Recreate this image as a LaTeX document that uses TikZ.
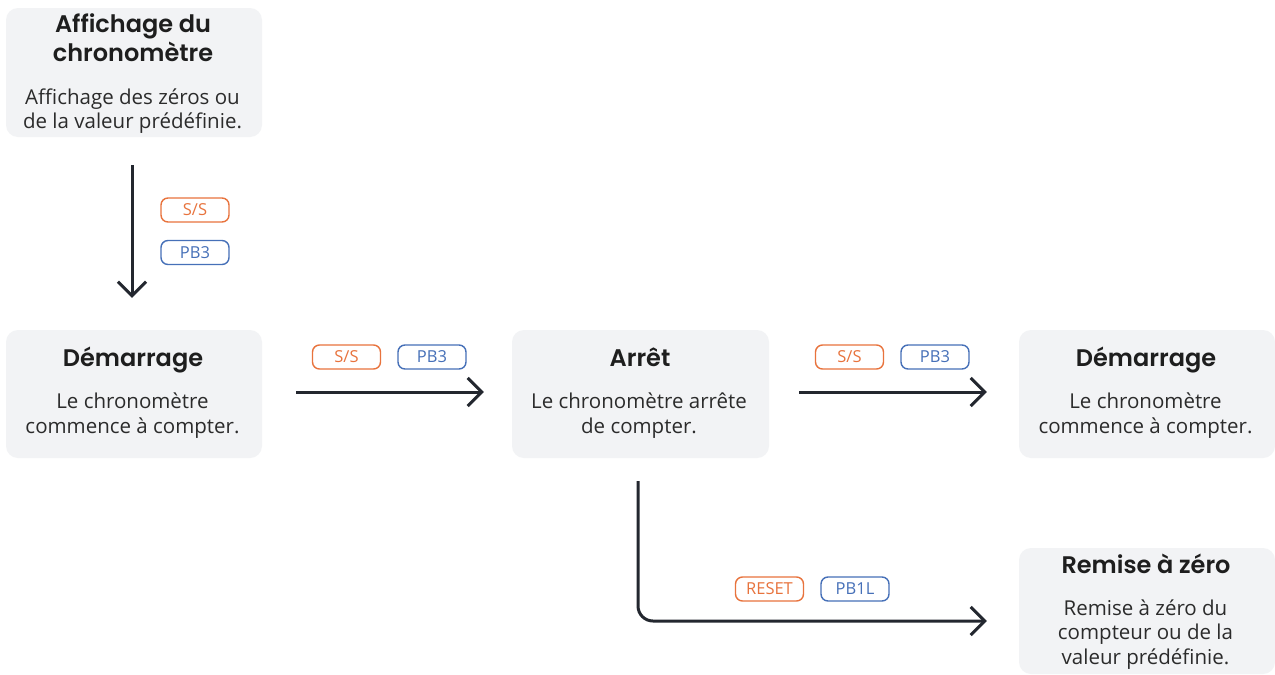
\documentclass[tikz,border=0pt]{standalone}
\usepackage{fontspec}
\setmainfont{Open Sans}
\newfontfamily\titlefont{Poppins SemiBold}
\usetikzlibrary{arrows.meta}
\definecolor{cardfill}{HTML}{F2F3F5}
\definecolor{arrowcol}{HTML}{23272F}
\definecolor{orangecol}{HTML}{E8733D}
\definecolor{bluecol}{HTML}{4670B8}
\definecolor{titlecol}{HTML}{1E1E1E}
\definecolor{bodycol}{HTML}{2B2B2B}
\tikzset{
  card/.style={fill=cardfill, draw=none, rounded corners=12pt, minimum width=256pt, minimum height=128pt, inner sep=0pt},
  titletext/.style={anchor=north, inner sep=0pt, align=center, text=titlecol, font=\titlefont\fontsize{24}{29.5}\selectfont},
  bodytext/.style={anchor=north, inner sep=0pt, align=center, text=bodycol, font=\fontsize{20.5}{24.5}\selectfont},
  pill/.style={draw=#1, text=#1, line width=1.4pt, rounded corners=7pt, minimum width=68pt, minimum height=24pt, inner sep=0pt, font=\fontsize{16.5}{18}\selectfont},
  flow/.style={draw=arrowcol, line width=3pt, -{Straight Barb[length=14pt,width=28pt,line width=3pt]}}
}
\begin{document}
\begin{tikzpicture}[x=1pt,y=-1pt]
\useasboundingbox (0,0) rectangle (1275,675);
\fill[white] (0,0) rectangle (1275,675);

% cards
\node[card, minimum height=129pt] (b1) at (134,72.5) {};
\node[card] (b2) at (134,394) {};
\node[card, minimum width=257pt] (b3) at (640.5,394) {};
\node[card] (b4) at (1147,394) {};
\node[card, minimum height=126pt] (b5) at (1147,611) {};

% texts
\node[titletext] (b1t) at (133,11.35) {\strut Affichage du\\chronomètre};
\node[bodytext] (b1d) at (132.5,86.85) {\strut Affichage des zéros ou\\de la valeur prédéfinie.};

\node[titletext] (b2t) at (133,346) {\strut Démarrage};
\node[bodytext] (b2d) at (132.5,391.35) {\strut Le chronomètre\\commence à compter.};

\node[titletext] (b3t) at (640,346) {\strut Arrêt};
\node[bodytext] (b3d) at (639,391.35) {\strut Le chronomètre arrête\\de compter.};

\node[titletext] (b4t) at (1146,346) {\strut Démarrage};
\node[bodytext] (b4d) at (1145.5,391.35) {\strut Le chronomètre\\commence à compter.};

\node[titletext] (b5t) at (1146,553) {\strut Remise à zéro};
\node[bodytext] (b5d) at (1145.5,597.85) {\strut Remise à zéro du\\compteur ou de la\\valeur prédéfinie.};

% connectors
\draw[flow, shorten <=28pt, shorten >=32pt] ([xshift=-2pt]b1.south) -- ([xshift=-2pt]b2.north);
\draw[flow, shorten <=34pt, shorten >=28pt] ([yshift=2pt]b2.east) -- ([yshift=2pt]b3.west);
\draw[flow, shorten <=30pt, shorten >=32pt] ([yshift=2pt]b3.east) -- ([yshift=2pt]b4.west);
\draw[flow, rounded corners=15pt, shorten <=23pt, shorten >=32pt] ([xshift=-2.5pt]b3.south) |- ([yshift=-10pt]b5.west);

% labels
\node[pill=orangecol] (l1a) at (195,210) {S/S};
\node[pill=bluecol] (l1b) at (195,252.5) {PB3};
\node[pill=orangecol] (l2a) at (346.5,357) {S/S};
\node[pill=bluecol] (l2b) at (432,357) {PB3};
\node[pill=orangecol] (l3a) at (849.5,357) {S/S};
\node[pill=bluecol] (l3b) at (935,357) {PB3};
\node[pill=orangecol] (l4a) at (769.5,589) {RESET};
\node[pill=bluecol] (l4b) at (855,589) {PB1L};
\end{tikzpicture}
\end{document}
